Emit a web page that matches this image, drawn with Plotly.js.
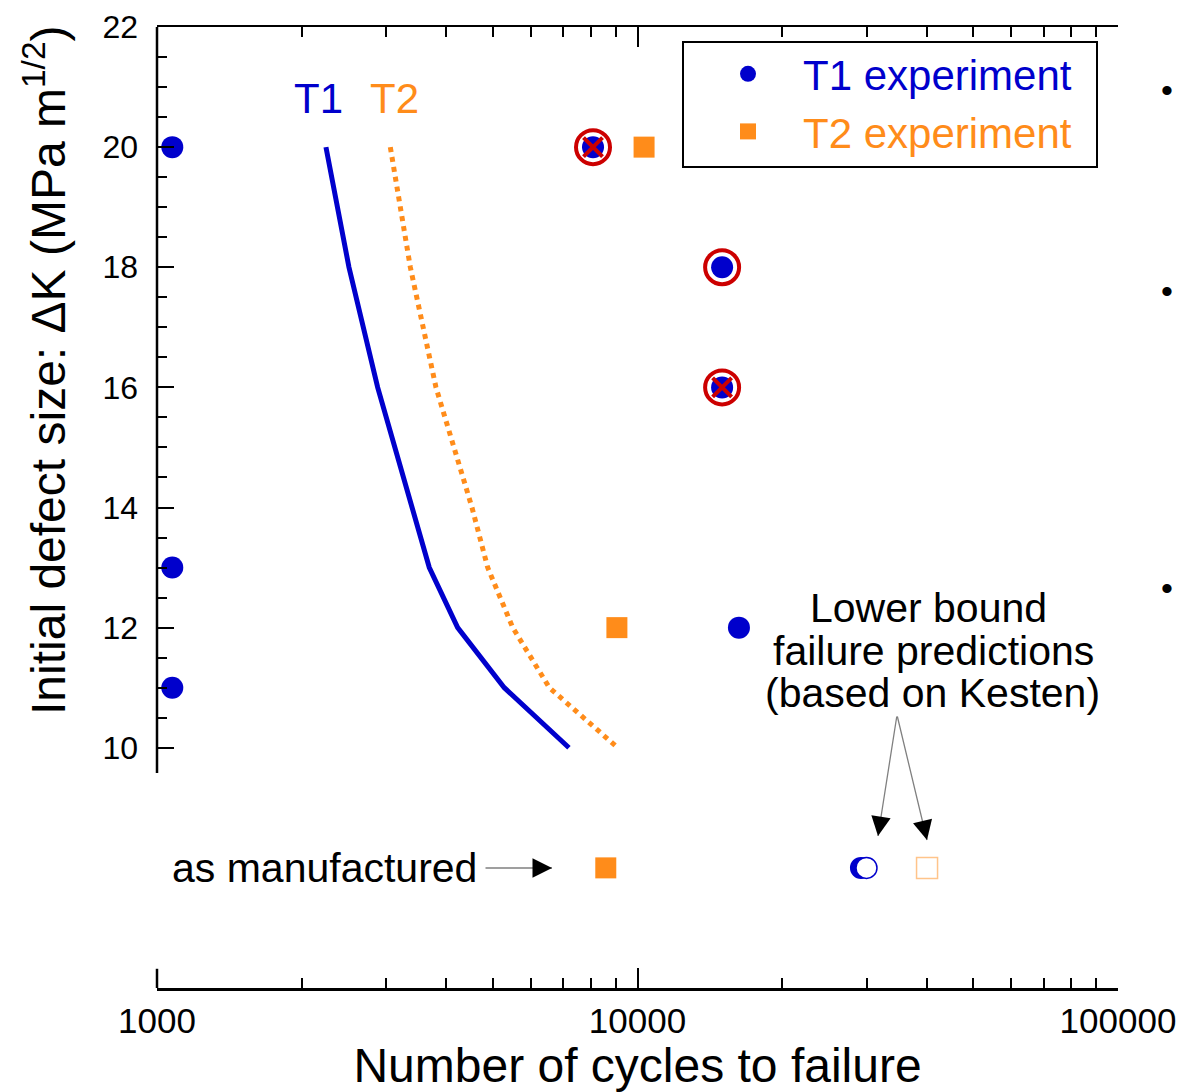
<!DOCTYPE html>
<html>
<head>
<meta charset="utf-8">
<script src="https://cdn.plot.ly/plotly-3.0.1.min.js"></script>
<style>html,body{margin:0;padding:0;background:#fff;}#chart{width:1184px;height:1092px;}</style>
</head>
<body>
<div id="chart"></div>
<script>
// ---- data ----
const t1CurveN = [2247, 2509, 2879, 3687, 4224, 5282, 7200];
const t1CurveK = [20, 18, 16, 13, 12, 11, 10];
const t2CurveN = [3059, 3367, 3807, 4524, 4878, 5500, 6555, 9095];
const t2CurveK = [20, 18, 16, 14, 13, 12, 11, 10];
const t1ExpN = [1076, 1076, 1076, 8080, 15000, 15000, 16260];
const t1ExpK = [20, 13, 11, 20, 18, 16, 12];
const t2ExpN = [10320, 9060, 8590];
const t2ExpK = [20, 12, 8];
const originN = [8080, 15000, 15000];
const originK = [20, 18, 16];
const crossN = [8080, 15000];
const crossK = [20, 16];
const kestenT1SolidN = [29180];
const kestenT1OpenN = [29960];
const kestenT2N = [40050];
const kestenK = [8];
const xTickVals = [1000, 10000, 100000];
const xTickText = ['1000', '10000', '100000'];
const yTickVals = [10, 12, 14, 16, 18, 20, 22];

const BLUE = '#0000CC', ORANGE = '#FF8C1A', RED = '#CC0000', LIGHTOR = '#FFC48A';
const FONT = 'Liberation Sans, Arial, Helvetica, sans-serif';

const xMinor = [];
[1000, 10000].forEach(d => { for (let k = 2; k <= 9; k++) xMinor.push(k * d); });
const yMinorLeft = [];
for (let v = 10; v <= 22; v += 0.5) yMinorLeft.push(v);

const traces = [
  {x: t1CurveN, y: t1CurveK, mode: 'lines', line: {color: BLUE, width: 5}, showlegend: false},
  {x: t2CurveN, y: t2CurveK, mode: 'lines', line: {color: ORANGE, width: 5, dash: 'dot'}, showlegend: false},
  {x: t1ExpN, y: t1ExpK, mode: 'markers', name: '<span style="color:' + BLUE + '">T1 experiment</span>',
   marker: {symbol: 'circle', size: 22, color: BLUE}},
  {x: t2ExpN, y: t2ExpK, mode: 'markers', name: '<span style="color:' + ORANGE + '">T2 experiment</span>',
   marker: {symbol: 'square', size: 21, color: ORANGE}},
  {x: originN, y: originK, mode: 'markers', showlegend: false,
   marker: {symbol: 'circle-open', size: 34, color: RED, line: {color: RED, width: 4}}},
  {x: crossN, y: crossK, mode: 'markers', showlegend: false,
   marker: {symbol: 'x-thin-open', size: 19, color: RED, line: {color: RED, width: 4}}},
  {x: kestenT1SolidN, y: kestenK, mode: 'markers', showlegend: false,
   marker: {symbol: 'circle', size: 22, color: BLUE}},
  {x: kestenT1OpenN, y: kestenK, mode: 'markers', showlegend: false,
   marker: {symbol: 'circle', size: 21, color: 'white', line: {color: BLUE, width: 1.5}}},
  {x: kestenT2N, y: kestenK, mode: 'markers', showlegend: false,
   marker: {symbol: 'square-open', size: 21, color: LIGHTOR, line: {color: LIGHTOR, width: 1.5}}}
];

function px(X) { return (X - 157) / 961; }
function py(Y) { return (988 - Y) / 961; }
function label(X, Y, text, size, color) {
  return {xref: 'paper', yref: 'paper', x: px(X), y: py(Y), text: text, showarrow: false,
          xanchor: 'center', yanchor: 'middle', font: {size: size, color: color}};
}
function arrow(X, Y, ax, ay, head, size, color) {
  return {xref: 'paper', yref: 'paper', x: px(X), y: py(Y), ax: ax, ay: ay, text: '', showarrow: true,
          arrowhead: head, arrowsize: size, arrowwidth: 1.3, arrowcolor: color};
}

const annotations = [
  Object.assign(label(45, 370, 'Initial defect size: \u0394K (MPa m<sup>1/2</sup>)', 48, 'black'), {textangle: -90}),
  label(318, 98, 'T1', 42, BLUE),
  label(394, 98, 'T2', 42, ORANGE),
  label(928, 608, 'Lower bound', 41, 'black'),
  label(933, 651, 'failure predictions', 41, 'black'),
  label(932, 693, '(based on Kesten)', 41, 'black'),
  label(324, 868, 'as manufactured', 41, 'black'),
  // arrow shafts (grey)
  arrow(878, 836, 19, -121, 0, 1, '#808080'),
  arrow(927, 840, -30, -125, 0, 1, '#808080'),
  arrow(552, 868, -68, 0, 0, 1, '#808080'),
  // arrow heads (black)
  arrow(878, 836, 3.1, -20, 2, 3, 'black'),
  arrow(927, 840, -4.7, -20, 2, 3, 'black'),
  arrow(552, 868, -20, 0, 2, 3, 'black'),
  // slide bullets at right
  label(1167, 90, '\u2022', 34, 'black'),
  label(1167, 291, '\u2022', 34, 'black'),
  label(1167, 588, '\u2022', 34, 'black')
];

const shapes = [
  {type: 'line', xref: 'paper', yref: 'y', x0: 0, x1: 0, y0: 22, y1: 9.58, line: {color: 'black', width: 2.5}},
  {type: 'line', xref: 'paper', yref: 'y', x0: 0, x1: 0, y0: 6.32, y1: 6, line: {color: 'black', width: 2.5}},
  // legend frame
  {type: 'rect', xref: 'paper', yref: 'paper', x0: px(683), x1: px(1097), y0: py(167), y1: py(42),
   line: {color: 'black', width: 2}, fillcolor: 'rgba(0,0,0,0)', layer: 'above'}
];

const layout = {
  width: 1184, height: 1092,
  margin: {l: 157, r: 66, t: 27, b: 104},
  paper_bgcolor: 'white', plot_bgcolor: 'white',
  font: {family: FONT, color: 'black'},
  showlegend: true,
  legend: {x: px(693), y: py(40), xanchor: 'left', yanchor: 'top', bgcolor: 'rgba(0,0,0,0)',
           borderwidth: 0, font: {size: 42}, itemwidth: 100, traceorder: 'normal'},
  xaxis: {
    type: 'log', range: [3, 5], showgrid: false, zeroline: false,
    showline: true, linecolor: 'black', linewidth: 2.5, mirror: 'ticks',
    tickmode: 'array', tickvals: xTickVals, ticktext: xTickText,
    ticks: 'inside', ticklen: 20, tickwidth: 2, tickcolor: 'black',
    tickfont: {size: 35, color: 'black'},
    minor: {tickmode: 'array', tickvals: xMinor, ticks: 'inside', ticklen: 10, tickwidth: 2, tickcolor: 'black', showgrid: false},
    title: {text: 'Number of cycles to failure', font: {size: 48, color: 'black'}, standoff: 4}
  },
  yaxis: {
    range: [6, 22], showgrid: false, zeroline: false, showline: false,
    tickmode: 'array', tickvals: yTickVals,
    ticks: 'inside', ticklen: 17, tickwidth: 2, tickcolor: 'black',
    tickfont: {size: 32, color: 'black'}, ticklabelstandoff: 18,
    minor: {tickmode: 'array', tickvals: yMinorLeft, ticks: 'inside', ticklen: 10, tickwidth: 2, tickcolor: 'black', showgrid: false}
  },
  yaxis2: {
    overlaying: 'y', side: 'right', anchor: 'x', range: [6, 22], showgrid: false, zeroline: false,
    showline: true, linecolor: 'black', linewidth: 2.5, showticklabels: false,
    tickmode: 'linear', tick0: 6, dtick: 2, ticks: 'inside', ticklen: 17, tickwidth: 2, tickcolor: 'black',
    minor: {dtick: 0.5, ticks: 'inside', ticklen: 10, tickwidth: 2, tickcolor: 'black', showgrid: false}
  },
  annotations: annotations,
  shapes: shapes
};

Plotly.newPlot('chart', traces, layout, {staticPlot: true, displayModeBar: false});
</script>
</body>
</html>
